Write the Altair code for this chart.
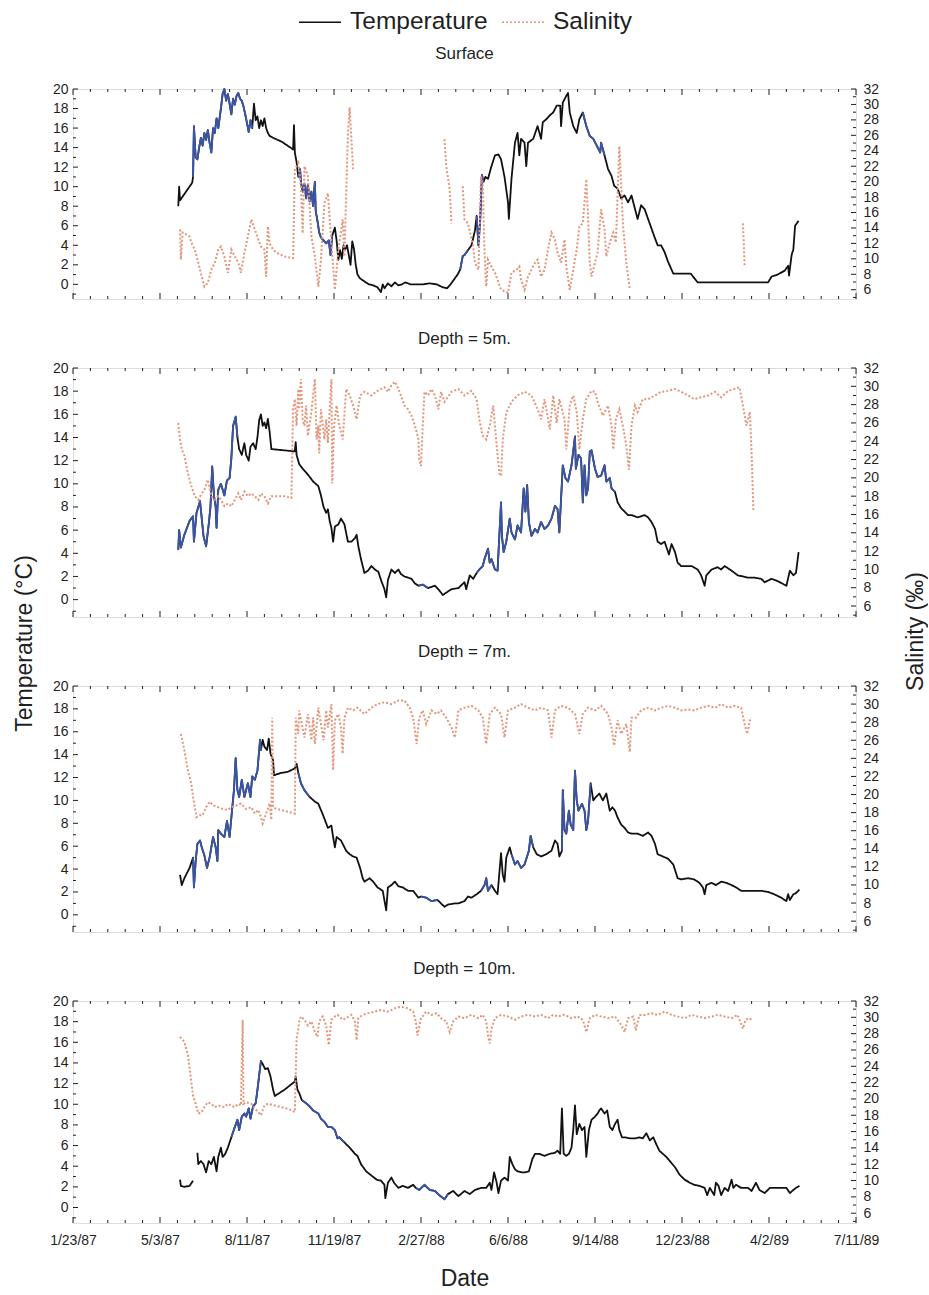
import altair as alt
import pandas as pd

# ---------------------------------------------------------------------------
# Time axis: days counted from 23 Jan 1987
# ---------------------------------------------------------------------------
DAY0 = pd.Timestamp("1987-01-23")
DAY_END = pd.Timestamp("1989-07-11")

FONT = "Liberation Sans"
INK = "#1f1f1f"
TEMP_COLOR = "#111111"
TEMP_BLUE = "#3a55a8"
SAL_COLOR = "#e3967c"

SERIES = ["Temperature", "Salinity"]
T_DOMAIN = [-1.5, 20]
S_DOMAIN = [4.8, 32]
T_LABELS = list(range(0, 21, 2))
S_LABELS = list(range(6, 33, 2))

# ---------------------------------------------------------------------------
# Surface
# ---------------------------------------------------------------------------
SURF_TEMP = [[
    (121, 8.0), (122, 10.0), (123, 8.6), (137, 10.4), (138, 11.0), (139, 16.2), (141, 13.0), (143, 12.8),
    (145, 14.0), (147, 15.0), (149, 14.2), (151, 15.5), (153, 14.8), (155, 15.8), (157, 14.5), (159, 13.5),
    (161, 16.0), (163, 15.5), (165, 17.0), (167, 16.0), (170, 18.0), (172, 19.5), (174, 20.0), (176, 18.8),
    (178, 19.5), (180, 18.5), (182, 17.4), (184, 19.0), (186, 18.4), (188, 19.3), (190, 19.6), (192, 19.0),
    (194, 18.8), (196, 18.2), (198, 17.4), (200, 16.5), (202, 15.6), (204, 16.8), (206, 16.0), (208, 18.5),
    (210, 16.8), (212, 17.2), (214, 16.0), (216, 16.8), (218, 16.2), (220, 17.0), (222, 16.0), (224, 15.5),
    (226, 15.2), (230, 15.0), (240, 14.6), (250, 14.0), (253, 13.8), (254, 16.3), (255, 13.5), (257, 12.5),
    (259, 11.0), (261, 11.8), (262, 10.5), (264, 9.5), (266, 10.3), (268, 8.8), (270, 10.2), (272, 8.5),
    (274, 9.5), (276, 8.0), (278, 10.5), (279, 7.5), (281, 6.5), (283, 5.3), (285, 4.8), (288, 4.5),
    (291, 4.2), (294, 4.5), (296, 3.0), (298, 5.0), (301, 5.8), (303, 4.5), (305, 2.5), (307, 3.5),
    (309, 2.6), (311, 4.0), (313, 3.6), (315, 4.0), (317, 3.0), (319, 2.0), (321, 4.4), (323, 3.6),
    (325, 2.0), (327, 1.0), (330, 0.6), (335, 0.3), (340, 0.0), (345, -0.1), (350, -0.3), (354, -0.8),
    (356, 0.0), (358, -0.4), (362, 0.1), (366, -0.2), (370, 0.2), (374, -0.1), (378, 0.0), (382, 0.2),
    (388, 0.0), (395, 0.0), (402, 0.0), (410, 0.1), (418, 0.0), (425, -0.3), (430, -0.4), (434, 0.0),
    (438, 0.5), (442, 1.0), (445, 1.5), (448, 2.9), (450, 3.0), (454, 3.5), (458, 4.0), (462, 5.5),
    (464, 7.0), (466, 4.0), (468, 6.5), (470, 11.2), (472, 10.5), (474, 11.0), (477, 10.8), (481, 12.1),
    (485, 13.2), (489, 13.3), (492, 12.8), (496, 11.0), (500, 8.4), (501, 6.7), (504, 10.8), (508, 14.5),
    (511, 15.5), (513, 13.2), (515, 14.9), (519, 14.5), (521, 12.1), (523, 14.5), (529, 14.9), (534, 16.2),
    (538, 14.9), (540, 16.6), (544, 16.9), (548, 17.3), (552, 17.6), (556, 18.3), (560, 18.3), (561, 16.2),
    (563, 18.6), (567, 19.3), (569, 19.6), (571, 17.6), (575, 16.2), (579, 15.5), (582, 16.9), (586, 17.6),
    (590, 16.2), (594, 15.2), (598, 14.9), (602, 14.2), (606, 13.5), (607, 14.5), (611, 13.2), (615, 11.8),
    (619, 11.1), (622, 10.1), (626, 9.8), (630, 8.8), (634, 9.1), (638, 8.4), (642, 9.1), (646, 7.7),
    (649, 6.7), (653, 8.1), (657, 7.7), (661, 6.7), (665, 5.7), (669, 4.7), (672, 4.0), (676, 4.0),
    (680, 3.3), (684, 2.3), (690, 1.1), (710, 1.1), (718, 0.2), (726, 0.2), (749, 0.2), (764, 0.2),
    (787, 0.2), (799, 0.2), (803, 0.8), (810, 1.0), (818, 1.4), (822, 1.9), (823, 0.9), (826, 3.0),
    (828, 3.6), (830, 6.0), (834, 6.5),
]]
SURF_SAL = [
    [(123, 13.8), (124, 9.9), (126, 13.4), (134, 12.9), (136, 12.1), (140, 11.2), (144, 9.5), (148, 7.7),
     (151, 6.4), (155, 6.9), (159, 8.6), (163, 9.5), (167, 11.2), (170, 11.6), (174, 10.3), (178, 8.2),
     (182, 11.2), (186, 10.3), (190, 9.5), (193, 8.2), (197, 10.8), (201, 12.9), (205, 15.1), (209, 13.8),
     (213, 12.5), (216, 11.6), (220, 11.2), (222, 7.7), (224, 14.2), (226, 12.0), (230, 11.2), (234, 10.8),
     (243, 10.3), (253, 10.1), (255, 21.6), (259, 22.4), (262, 19.4), (264, 13.3), (266, 22.0), (270, 20.7),
     (274, 12.9), (278, 10.3), (282, 6.4), (285, 9.9), (289, 17.2), (293, 18.5), (297, 12.1), (301, 6.0),
     (305, 11.2), (310, 15.1), (312, 10.3), (316, 26.3), (318, 29.6), (320, 25.5), (322, 21.6)],
    [(427, 25.5), (429, 22.0), (433, 19.0), (435, 14.6)],
    [(448, 19.4), (450, 15.1), (454, 14.6), (460, 11.6), (462, 9.5), (466, 8.6), (469, 20.7), (471, 19.4),
     (473, 10.8), (475, 6.4), (477, 9.9), (481, 9.0), (485, 8.2), (488, 7.3), (492, 6.0), (500, 5.6),
     (504, 8.2), (510, 8.6), (513, 9.0), (515, 7.3), (519, 6.0), (523, 7.7), (527, 8.6), (531, 9.5),
     (534, 9.9), (538, 7.7), (542, 8.6), (546, 11.2), (550, 13.4), (554, 12.5), (557, 10.8), (561, 9.5),
     (565, 12.5), (567, 9.0), (571, 6.0), (575, 8.6), (579, 11.2), (582, 14.2), (586, 14.6), (590, 20.3),
     (592, 15.5), (594, 9.5), (596, 7.7), (600, 9.5), (603, 10.8), (607, 16.4), (611, 13.8), (613, 10.3),
     (617, 12.1), (621, 13.4), (624, 12.1), (628, 24.6), (630, 19.8), (632, 14.6), (636, 9.5), (640, 6.0)],
    [(770, 14.6), (771, 12.0), (772, 9.0)],
]
SURF_BLUE = [(138, 207), (258, 300), (443, 454), (463, 472), (585, 612)]

# ---------------------------------------------------------------------------
# Depth = 5 m
# ---------------------------------------------------------------------------
D5_TEMP = [[
    (121, 4.3), (122, 6.0), (124, 4.5), (128, 5.6), (134, 6.8), (138, 7.2), (139, 5.0), (142, 7.5),
    (146, 8.5), (148, 7.0), (150, 5.5), (153, 4.6), (156, 6.5), (158, 8.0), (160, 11.5), (162, 9.0),
    (164, 8.0), (165, 6.2), (167, 9.5), (170, 10.0), (174, 9.0), (177, 10.3), (180, 10.5), (182, 12.2),
    (184, 15.0), (187, 15.8), (189, 14.0), (191, 13.0), (194, 12.5), (197, 13.5), (199, 12.5), (202, 12.0),
    (204, 13.2), (207, 13.5), (210, 13.0), (212, 14.0), (214, 15.5), (216, 16.0), (218, 15.0), (220, 15.3),
    (222, 14.8), (224, 15.6), (226, 14.5), (228, 13.0), (255, 12.8), (256, 13.6), (257, 12.5), (260, 11.7),
    (264, 11.3), (270, 10.8), (276, 10.2), (282, 9.8), (285, 9.0), (288, 8.0), (291, 7.5), (293, 7.8),
    (295, 6.8), (297, 6.2), (299, 5.0), (301, 6.3), (305, 6.5), (308, 7.0), (312, 6.5), (316, 5.0),
    (320, 5.0), (324, 5.3), (326, 5.6), (328, 4.6), (331, 3.5), (335, 2.3), (339, 2.5), (343, 2.9),
    (347, 2.6), (351, 2.4), (354, 1.7), (358, 0.9), (360, 0.2), (362, 1.7), (366, 2.6), (370, 2.3),
    (374, 2.6), (377, 2.2), (381, 2.0), (389, 1.8), (393, 1.4), (397, 1.2), (402, 1.3), (408, 1.0),
    (416, 1.2), (421, 0.8), (425, 0.4), (429, 0.6), (435, 0.9), (443, 1.0), (450, 1.5), (452, 0.9),
    (456, 2.1), (460, 1.8), (464, 2.3), (467, 2.6), (471, 2.9), (473, 3.5), (477, 4.4), (479, 3.2),
    (481, 3.5), (485, 2.6), (488, 2.5), (492, 8.4), (493, 5.5), (495, 4.1), (498, 5.0), (502, 7.0),
    (504, 5.8), (508, 5.2), (511, 6.4), (515, 5.8), (518, 9.6), (520, 7.6), (522, 9.9), (524, 6.7),
    (527, 5.5), (531, 6.1), (534, 5.8), (538, 6.7), (542, 6.1), (546, 6.4), (550, 7.0), (554, 8.1),
    (557, 7.8), (559, 5.8), (561, 8.7), (563, 11.6), (566, 10.5), (569, 10.2), (573, 11.6), (577, 14.1),
    (578, 11.3), (581, 12.5), (584, 12.2), (586, 8.4), (588, 11.6), (590, 9.0), (592, 9.6), (594, 12.8),
    (596, 12.9), (600, 11.3), (603, 10.6), (607, 10.7), (611, 11.6), (613, 10.2), (617, 10.5), (619, 9.6),
    (623, 9.3), (626, 8.4), (630, 7.9), (634, 7.6), (638, 7.3), (642, 7.3), (649, 7.1), (657, 7.3),
    (661, 7.1), (665, 6.7), (669, 6.1), (672, 5.0), (676, 4.8), (680, 5.0), (685, 3.9), (688, 4.8),
    (692, 4.1), (695, 3.2), (699, 2.9), (711, 2.9), (718, 2.6), (722, 2.1), (726, 1.2), (728, 2.1),
    (734, 2.6), (741, 2.8), (745, 2.6), (749, 2.9), (757, 2.5), (764, 2.1), (776, 1.9), (783, 1.9),
    (791, 1.8), (795, 1.5), (803, 1.8), (810, 1.6), (820, 1.2), (824, 2.5), (828, 2.1), (831, 2.3),
    (834, 4.1),
]]
D5_SAL = [[
    (121, 26.0), (123, 24.2), (125, 23.1), (128, 22.4), (132, 20.5), (136, 19.1), (140, 18.0), (144, 17.6),
    (148, 18.3), (151, 18.7), (155, 19.8), (159, 18.0), (163, 17.6), (167, 18.0), (170, 17.6), (174, 16.9),
    (178, 17.2), (182, 16.9), (186, 17.6), (190, 18.3), (193, 17.6), (197, 18.5), (201, 18.0), (205, 18.3),
    (209, 18.0), (213, 17.6), (216, 18.3), (220, 18.0), (224, 17.2), (228, 18.0), (236, 18.0), (243, 18.0),
    (251, 17.8), (253, 27.5), (255, 28.6), (257, 25.7), (259, 29.7), (260, 27.5), (262, 30.8), (264, 26.4),
    (266, 25.7), (268, 27.9), (270, 24.6), (274, 27.2), (278, 30.8), (280, 24.2), (282, 25.7), (283, 22.7),
    (285, 27.5), (289, 24.2), (291, 26.4), (293, 23.8), (297, 30.8), (298, 19.4), (300, 25.7), (303, 27.9),
    (306, 25.7), (310, 24.2), (314, 29.7), (318, 29.0), (322, 27.9), (326, 26.4), (330, 29.0), (335, 29.4),
    (343, 29.0), (350, 29.5), (358, 29.9), (362, 29.4), (366, 30.1), (370, 30.5), (374, 29.7), (377, 29.0),
    (381, 27.9), (385, 27.5), (389, 26.8), (393, 25.7), (397, 24.2), (398, 22.0), (400, 21.3), (402, 25.7),
    (404, 29.4), (408, 29.0), (412, 29.7), (416, 29.0), (420, 27.5), (423, 29.4), (427, 28.3), (435, 29.4),
    (443, 29.7), (450, 29.0), (458, 29.5), (464, 28.6), (467, 26.4), (471, 24.6), (475, 24.2), (479, 25.7),
    (483, 27.9), (487, 23.5), (490, 20.5), (492, 20.2), (494, 24.2), (498, 27.1), (504, 28.3), (511, 29.0),
    (519, 29.4), (527, 29.0), (534, 27.5), (538, 26.4), (542, 28.6), (548, 25.3), (552, 29.0), (556, 26.0),
    (559, 28.6), (565, 26.4), (567, 23.1), (571, 27.9), (575, 29.0), (579, 27.2), (582, 23.1), (586, 26.4),
    (590, 28.6), (596, 29.5), (600, 29.4), (603, 28.3), (609, 26.8), (615, 27.9), (619, 25.7), (621, 23.1),
    (624, 26.4), (628, 27.5), (632, 25.7), (636, 23.5), (639, 20.9), (642, 25.7), (646, 27.9), (649, 27.2),
    (655, 28.6), (661, 28.6), (669, 29.0), (676, 29.4), (684, 29.5), (692, 29.7), (699, 29.4), (707, 29.0),
    (714, 28.6), (722, 28.8), (730, 29.0), (738, 29.4), (745, 28.8), (753, 29.5), (760, 29.7), (766, 29.9),
    (770, 27.9), (774, 25.7), (778, 27.2), (780, 22.7), (782, 16.5),
]]
D5_BLUE = [(121, 190), (395, 412), (462, 625)]

# ---------------------------------------------------------------------------
# Depth = 7 m
# ---------------------------------------------------------------------------
D7_TEMP = [[
    (123, 3.5), (125, 2.6), (128, 3.2), (134, 4.1), (138, 5.0), (139, 2.4), (141, 4.7), (143, 6.2),
    (146, 6.5), (148, 5.9), (151, 5.2), (154, 4.1), (157, 5.0), (161, 6.8), (164, 5.9), (166, 4.7),
    (167, 7.4), (170, 7.1), (174, 6.8), (177, 8.2), (180, 6.8), (182, 8.5), (185, 10.9), (187, 13.7),
    (189, 10.9), (191, 10.3), (194, 11.8), (197, 10.3), (201, 11.5), (204, 10.3), (206, 12.1), (209, 11.8),
    (212, 12.6), (213, 13.5), (215, 15.3), (216, 14.4), (218, 15.3), (220, 14.7), (223, 14.4), (225, 15.4),
    (227, 14.1), (230, 13.5), (231, 12.2), (239, 12.4), (247, 12.5), (255, 12.8), (257, 13.2), (259, 12.4),
    (262, 11.5), (266, 10.9), (272, 10.3), (278, 9.9), (282, 9.7), (287, 8.8), (293, 7.6), (297, 7.8),
    (299, 6.8), (301, 5.9), (303, 6.8), (308, 6.5), (314, 5.6), (318, 5.3), (322, 5.1), (326, 5.0),
    (330, 4.1), (333, 3.2), (335, 2.9), (341, 3.2), (345, 2.9), (350, 2.4), (356, 2.1), (360, 0.4),
    (362, 2.4), (366, 2.6), (370, 2.9), (374, 2.5), (379, 2.4), (385, 2.1), (391, 2.1), (397, 1.5),
    (400, 1.6), (406, 1.5), (412, 1.2), (419, 1.3), (427, 0.7), (431, 0.9), (439, 1.0), (443, 1.0),
    (450, 1.2), (454, 1.6), (458, 1.5), (464, 1.8), (469, 2.1), (473, 2.6), (475, 3.2), (477, 2.1),
    (481, 2.6), (485, 2.1), (488, 1.8), (492, 5.4), (494, 3.5), (496, 2.9), (498, 5.0), (502, 5.9),
    (504, 5.3), (508, 4.4), (511, 4.7), (515, 4.1), (519, 4.4), (524, 5.6), (526, 6.9), (529, 5.9),
    (533, 5.3), (538, 5.1), (544, 5.3), (550, 5.6), (554, 6.5), (557, 6.2), (559, 5.1), (562, 5.6),
    (563, 10.9), (565, 7.4), (567, 7.1), (570, 9.1), (572, 7.9), (575, 7.4), (577, 12.6), (579, 10.0),
    (581, 9.1), (585, 9.7), (588, 9.1), (590, 7.4), (592, 8.2), (595, 11.5), (598, 10.0), (601, 10.3),
    (605, 10.6), (609, 10.0), (613, 10.6), (617, 9.1), (620, 9.4), (623, 9.1), (626, 8.5), (630, 7.9),
    (634, 7.6), (638, 7.2), (642, 7.1), (649, 7.1), (655, 6.9), (661, 7.2), (665, 6.9), (669, 6.2),
    (672, 5.3), (678, 5.1), (684, 4.9), (690, 4.4), (695, 3.2), (699, 3.1), (707, 3.2), (714, 3.1),
    (720, 2.8), (724, 2.4), (726, 1.8), (728, 2.6), (734, 2.8), (739, 2.6), (745, 2.9), (751, 2.8),
    (757, 2.6), (762, 2.4), (768, 2.1), (776, 2.1), (783, 2.1), (791, 2.1), (799, 2.0), (806, 1.8),
    (814, 1.5), (820, 1.2), (822, 1.8), (824, 1.3), (828, 1.8), (831, 1.9), (835, 2.2),
]]
D7_SAL = [[
    (124, 26.7), (128, 24.9), (132, 22.7), (136, 21.2), (138, 19.7), (140, 18.6), (142, 17.5), (146, 17.7),
    (149, 17.7), (153, 18.6), (157, 19.2), (161, 18.8), (167, 18.6), (172, 18.4), (178, 18.3), (182, 18.6),
    (188, 18.8), (193, 19.0), (199, 18.4), (205, 18.6), (209, 17.9), (213, 18.3), (216, 17.5), (218, 16.8),
    (222, 17.9), (226, 19.0), (228, 17.2), (229, 28.5), (230, 18.6), (234, 18.4), (239, 18.3), (247, 18.1),
    (255, 17.9), (256, 28.5), (259, 26.7), (260, 29.3), (263, 27.8), (266, 26.3), (270, 28.9), (274, 26.0),
    (276, 28.5), (278, 25.6), (282, 29.6), (285, 27.8), (288, 26.0), (291, 29.3), (293, 27.4), (297, 30.0),
    (299, 22.7), (301, 28.2), (305, 28.9), (308, 27.4), (310, 24.5), (312, 28.5), (316, 29.6), (322, 29.3),
    (327, 29.6), (335, 28.9), (343, 29.6), (350, 30.0), (358, 30.2), (366, 30.0), (374, 30.4), (381, 30.4),
    (387, 29.6), (391, 28.5), (395, 25.6), (398, 28.5), (402, 29.3), (406, 27.8), (412, 29.3), (418, 28.9),
    (423, 29.3), (429, 28.5), (435, 27.4), (439, 26.3), (443, 29.3), (450, 29.6), (458, 29.8), (466, 29.3),
    (471, 28.5), (475, 25.6), (479, 28.9), (485, 29.6), (492, 28.9), (496, 26.3), (500, 29.3), (508, 29.6),
    (515, 30.0), (523, 29.6), (531, 29.3), (538, 29.6), (546, 29.3), (550, 26.3), (554, 29.3), (561, 29.8),
    (569, 29.6), (577, 28.9), (582, 26.7), (586, 28.9), (592, 29.6), (600, 29.3), (607, 29.8), (615, 28.9),
    (619, 27.4), (622, 25.4), (626, 28.2), (630, 26.7), (636, 27.8), (640, 24.7), (642, 28.5), (647, 28.5),
    (653, 29.3), (661, 29.6), (669, 29.3), (676, 29.6), (684, 29.8), (692, 29.6), (699, 29.3), (707, 29.4),
    (714, 29.3), (722, 29.6), (730, 29.8), (738, 29.6), (745, 30.0), (753, 29.6), (760, 29.8), (768, 29.6),
    (772, 27.8), (775, 26.7), (778, 28.2), (780, 28.5),
]]
D7_BLUE = [(138, 216), (259, 272), (400, 423), (466, 481), (504, 531), (561, 596)]

# ---------------------------------------------------------------------------
# Depth = 10 m
# ---------------------------------------------------------------------------
D10_TEMP = [
    [(123, 2.7), (124, 2.1), (128, 2.0), (134, 2.1), (138, 2.6)],
    [(143, 5.3), (144, 4.2), (147, 4.5), (150, 4.2), (153, 3.4), (156, 4.5), (159, 4.2), (162, 4.9),
     (165, 3.5), (167, 4.9), (170, 5.8), (172, 4.9), (175, 5.2), (178, 5.8), (182, 6.8), (186, 7.8),
     (189, 8.5), (191, 7.5), (194, 8.8), (197, 9.1), (199, 8.8), (202, 9.6), (204, 8.6), (207, 9.8),
     (210, 10.1), (212, 11.4), (213, 12.1), (216, 14.2), (218, 13.9), (221, 13.4), (224, 13.5), (227, 12.7),
     (230, 11.4), (232, 10.8), (243, 11.4), (255, 12.2), (256, 12.7), (258, 11.4), (260, 11.1), (263, 10.4),
     (268, 10.1), (272, 9.8), (276, 9.4), (282, 9.1), (285, 8.6), (289, 8.3), (293, 7.8), (297, 7.8),
     (301, 7.5), (304, 6.7), (306, 6.8), (312, 6.3), (318, 5.8), (324, 5.2), (327, 5.0), (331, 4.2),
     (337, 3.5), (343, 3.1), (349, 2.7), (354, 2.6), (358, 2.2), (359, 0.9), (362, 2.4), (366, 2.9),
     (369, 2.4), (374, 1.9), (379, 2.1), (385, 1.9), (391, 2.2), (394, 1.9), (398, 1.7), (404, 2.2),
     (410, 1.7), (416, 1.6), (421, 1.2), (427, 0.8), (431, 1.3), (437, 1.6), (443, 1.1), (450, 1.6),
     (456, 1.3), (462, 1.7), (469, 1.9), (475, 1.9), (479, 2.4), (481, 1.7), (484, 3.4), (487, 2.4),
     (489, 1.4), (492, 2.6), (496, 2.9), (500, 2.6), (502, 4.9), (505, 4.2), (508, 3.7), (511, 3.5),
     (516, 3.4), (519, 3.4), (524, 3.5), (528, 4.7), (531, 5.2), (536, 5.2), (542, 5.0), (548, 5.2),
     (554, 5.3), (557, 5.5), (560, 5.2), (562, 9.6), (564, 5.2), (567, 5.0), (570, 5.2), (573, 5.8),
     (575, 7.5), (577, 9.9), (579, 7.1), (582, 8.1), (585, 7.5), (588, 7.8), (590, 4.9), (593, 7.5),
     (596, 8.5), (600, 8.8), (603, 9.1), (605, 9.4), (607, 9.6), (611, 9.1), (614, 9.4), (617, 7.8),
     (620, 7.5), (623, 8.1), (626, 8.5), (628, 7.5), (631, 6.8), (634, 6.8), (640, 6.7), (646, 6.7),
     (651, 6.8), (655, 6.7), (659, 7.2), (663, 6.5), (667, 6.8), (670, 6.2), (674, 5.5), (678, 5.2),
     (682, 4.9), (686, 4.5), (692, 3.9), (697, 3.2), (703, 2.7), (709, 2.4), (714, 2.2), (720, 2.1),
     (726, 1.9), (729, 1.2), (732, 1.9), (737, 1.2), (739, 2.4), (742, 2.1), (745, 1.2), (749, 1.9),
     (753, 1.6), (757, 2.7), (759, 1.9), (762, 2.2), (768, 1.9), (776, 1.9), (780, 1.6), (785, 2.4),
     (789, 1.7), (795, 1.4), (801, 1.9), (810, 1.9), (820, 1.9), (824, 1.4), (828, 1.7), (831, 1.9),
     (835, 2.1)],
]
D10_SAL = [[
    (123, 27.6), (128, 27.0), (132, 25.4), (135, 22.9), (138, 20.4), (141, 19.4), (144, 18.2), (148, 18.4),
    (151, 19.0), (155, 19.6), (159, 19.4), (163, 19.0), (167, 19.2), (170, 19.1), (174, 19.0), (178, 19.4),
    (182, 19.2), (186, 19.0), (190, 19.4), (193, 19.2), (195, 29.7), (196, 19.4), (199, 19.6), (205, 19.4),
    (209, 18.8), (213, 18.4), (216, 18.0), (220, 19.2), (224, 19.4), (232, 19.2), (239, 19.0), (247, 18.8),
    (255, 18.4), (257, 27.4), (259, 28.6), (260, 29.5), (262, 30.1), (266, 29.7), (270, 29.0), (274, 29.5),
    (278, 28.2), (281, 27.6), (283, 29.5), (287, 30.1), (291, 29.0), (294, 26.6), (297, 29.7), (301, 30.1),
    (304, 30.3), (310, 29.7), (314, 29.9), (320, 30.3), (324, 29.5), (326, 27.2), (328, 29.9), (333, 30.3),
    (339, 30.5), (347, 30.7), (354, 30.9), (362, 30.7), (370, 31.1), (377, 31.3), (385, 31.1), (391, 30.7),
    (394, 29.5), (396, 27.8), (400, 29.9), (406, 30.7), (412, 30.3), (418, 30.5), (423, 29.9), (429, 29.5),
    (433, 28.2), (437, 29.5), (443, 30.1), (450, 29.9), (458, 30.3), (466, 29.9), (471, 30.3), (475, 29.5),
    (477, 27.8), (479, 26.8), (481, 28.6), (485, 29.9), (492, 30.3), (500, 30.1), (508, 29.7), (515, 30.1),
    (523, 30.3), (531, 30.1), (538, 30.3), (546, 29.9), (552, 30.3), (557, 30.1), (565, 30.3), (573, 29.9),
    (580, 30.1), (586, 29.7), (590, 28.2), (594, 29.9), (600, 30.3), (607, 30.1), (615, 29.9), (623, 30.1),
    (630, 29.1), (634, 28.2), (638, 29.9), (644, 30.1), (647, 28.4), (651, 30.3), (657, 30.3), (665, 30.5),
    (672, 30.3), (680, 30.7), (688, 30.3), (695, 30.1), (703, 29.9), (711, 30.3), (718, 30.1), (726, 29.9),
    (734, 30.1), (741, 30.3), (749, 30.1), (757, 29.9), (764, 30.3), (770, 28.6), (773, 29.7), (777, 29.9),
    (780, 29.7),
]]
D10_BLUE = [(182, 216), (262, 312), (394, 435)]


# ---------------------------------------------------------------------------
# Helpers
# ---------------------------------------------------------------------------
def to_date(day):
    return DAY0 + pd.Timedelta(days=day)


def series_frame(segments, label):
    rows = []
    for i, seg in enumerate(segments):
        for day, val in seg:
            rows.append({"date": to_date(day), "value": val, "seg": i, "series": label})
    return pd.DataFrame(rows)


def highlight_frame(segments, spans):
    rows = []
    k = 0
    for a, b in spans:
        for seg in segments:
            pts = [(d, v) for d, v in seg if a <= d <= b]
            if len(pts) > 1:
                for d, v in pts:
                    rows.append({"date": to_date(d), "value": v, "seg": k})
                k += 1
    return pd.DataFrame(rows)


def dt(ts):
    return alt.DateTime(year=ts.year, month=ts.month, date=ts.day)


PANEL_W = 783
X_SCALE = alt.Scale(domain=[dt(DAY0), dt(DAY_END)], nice=False)
T_SCALE = alt.Scale(domain=T_DOMAIN, nice=False, zero=False)
S_SCALE = alt.Scale(domain=S_DOMAIN, nice=False, zero=False)
X_LABEL_DATES = [dt(to_date(100 * k)) for k in range(10)]

# inward tick positions on the frame
XT = pd.DataFrame({"date": [to_date(20 * k) for k in range(46)],
                   "major": [k % 5 == 0 for k in range(46)]})
YT_LEFT = pd.DataFrame({"value": list(range(-1, 21))})
YT_LEFT["major"] = YT_LEFT["value"] % 2 == 0
YT_RIGHT = pd.DataFrame({"value": list(range(5, 33))})
YT_RIGHT["major"] = YT_RIGHT["value"] % 2 == 0

LEGEND = alt.Legend(
    title=None, orient="none", legendX=225, legendY=-89, direction="horizontal",
    symbolType="stroke", symbolSize=1764, symbolStrokeWidth=1.6,
    labelFont=FONT, labelFontSize=24.5, labelColor=INK, labelOffset=8,
    columnPadding=10, padding=0, labelLimit=300,
)
COLOR = alt.Color("series:N", scale=alt.Scale(domain=SERIES, range=[TEMP_COLOR, SAL_COLOR]), legend=LEGEND)
DASH = alt.StrokeDash("series:N", scale=alt.Scale(domain=SERIES, range=[[1, 0], [2, 2]]), legend=LEGEND)

X_AXIS_DATES = alt.Axis(
    values=X_LABEL_DATES, format="%-m/%-d/%y", ticks=False, domain=False, grid=False,
    labelFont=FONT, labelFontSize=14, labelColor=INK, labelPadding=10, labelFlush=False,
    titleFont=FONT, titleFontSize=23, titleFontWeight="normal", titleColor=INK, titlePadding=20)


def panel(name, temp_segs, sal_segs, blue_spans, h, title_offset,
          left_title=False, right_title=False, x_labels=False):
    tdf = series_frame(temp_segs, "Temperature")
    sdf = series_frame(sal_segs, "Salinity")
    bdf = highlight_frame(temp_segs, blue_spans)

    # every layer of a panel carries the same x axis definition so they merge cleanly
    def xenc():
        if x_labels:
            return alt.X("date:T", scale=X_SCALE, axis=X_AXIS_DATES, title="Date")
        return alt.X("date:T", scale=X_SCALE, axis=None)

    t_axis_kw = dict(orient="left", values=T_LABELS, ticks=False, domain=False, grid=False,
                     labelFont=FONT, labelFontSize=14, labelColor=INK, labelPadding=5)
    if left_title:
        t_axis_kw.update(titleFont=FONT, titleFontSize=23, titleFontWeight="normal", titleColor=INK,
                         titleAngle=270, titleX=-42, titleY=275, titleBaseline="alphabetic",
                         titleAlign="center")
    t_axis = alt.Axis(**t_axis_kw)
    t_title = "Temperature (°C)" if left_title else None

    s_axis_kw = dict(orient="right", values=S_LABELS, ticks=False, domain=False, grid=False,
                     labelFont=FONT, labelFontSize=14, labelColor=INK, labelPadding=7)
    if right_title:
        s_axis_kw.update(titleFont=FONT, titleFontSize=23, titleFontWeight="normal", titleColor=INK,
                         titleAngle=270, titleX=66, titleY=263, titleBaseline="alphabetic",
                         titleAlign="center")
    s_axis = alt.Axis(**s_axis_kw)
    s_title = "Salinity (‰)" if right_title else None

    def ty():
        return alt.Y("value:Q", scale=T_SCALE, axis=t_axis, title=t_title)

    def sy():
        return alt.Y("value:Q", scale=S_SCALE, axis=s_axis, title=s_title)

    temp_line = alt.Chart(tdf).mark_line(strokeWidth=1.8, strokeJoin="round").encode(
        x=xenc(), y=ty(), detail="seg:N", color=COLOR, strokeDash=DASH,
    )
    blue_line = alt.Chart(bdf).mark_line(color=TEMP_BLUE, strokeWidth=1.8, strokeJoin="round").encode(
        x=xenc(), y=ty(), detail="seg:N",
    )
    xticks = []
    for major, length in ((True, 6), (False, 3)):
        sub = XT[XT["major"] == major]
        xticks.append(alt.Chart(sub).mark_rule(color=INK, strokeWidth=1).encode(
            x=xenc(), y=alt.value(0), y2=alt.value(length)))
        xticks.append(alt.Chart(sub).mark_rule(color=INK, strokeWidth=1).encode(
            x=xenc(), y=alt.value(h), y2=alt.value(h - length)))
    yl = [alt.Chart(YT_LEFT[YT_LEFT["major"] == m]).mark_rule(color=INK, strokeWidth=1).encode(
        y=ty(), x=alt.value(0), x2=alt.value(n)) for m, n in ((True, 5), (False, 3))]
    temp_group = alt.layer(temp_line, blue_line, *xticks, *yl)

    sal_line = alt.Chart(sdf).mark_line(strokeWidth=2, strokeCap="butt").encode(
        x=xenc(), y=sy(), detail="seg:N", color=COLOR, strokeDash=DASH,
    )
    yr = [alt.Chart(YT_RIGHT[YT_RIGHT["major"] == m]).mark_rule(color=INK, strokeWidth=1).encode(
        y=sy(), x=alt.value(PANEL_W), x2=alt.value(PANEL_W - n)) for m, n in ((True, 5), (False, 3))]
    sal_group = alt.layer(sal_line, *yr)

    return alt.layer(temp_group, sal_group).resolve_scale(y="independent").properties(
        width=PANEL_W, height=h,
        title=alt.TitleParams(name, font=FONT, fontSize=17, fontWeight="normal", color=INK,
                              anchor="middle", frame="group", baseline="alphabetic",
                              offset=title_offset),
    )


p1 = panel("Surface", SURF_TEMP, SURF_SAL, SURF_BLUE, 210, 6)
p2 = panel("Depth = 5m.", D5_TEMP, D5_SAL, D5_BLUE, 249, 0, left_title=True, right_title=True)
p3 = panel("Depth = 7m.", D7_TEMP, D7_SAL, D7_BLUE, 246, 5)
p4 = panel("Depth = 10m.", D10_TEMP, D10_SAL, D10_BLUE, 222, 3, x_labels=True)

chart = alt.vconcat(p1, p2, p3, p4, spacing=69, bounds="flush").properties(
    padding={"left": 12, "top": 0, "right": 0, "bottom": 0},
).configure_view(stroke="#111111", strokeWidth=1.5).configure(background="white")

chart.save("out.html", embed_options={"renderer": "svg", "actions": False})
